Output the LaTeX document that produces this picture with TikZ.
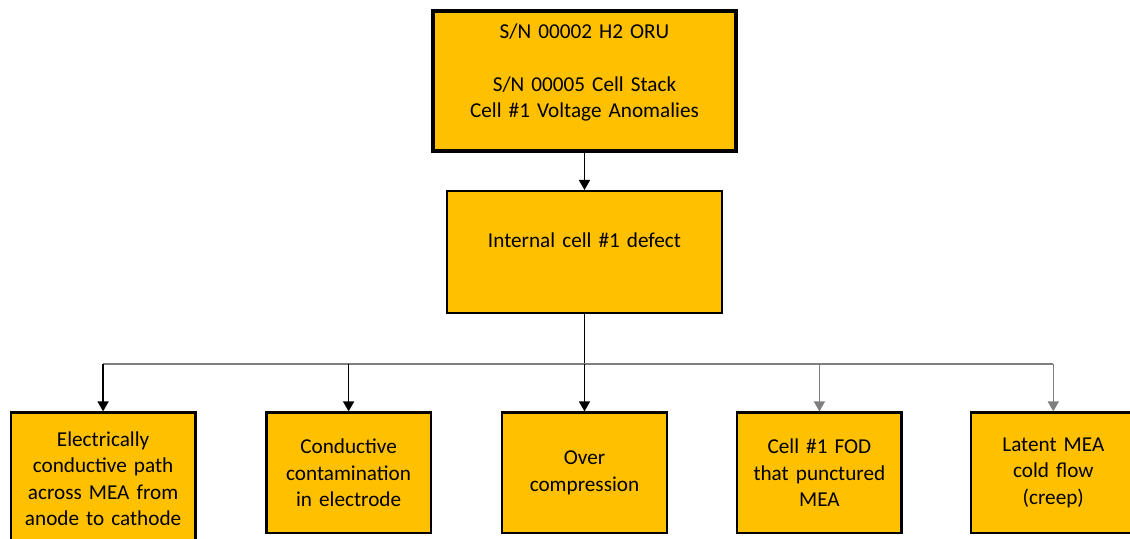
\documentclass[tikz,border=0pt]{standalone}
\usepackage{fontspec}
\setmainfont{Carlito}
\usetikzlibrary{arrows.meta, positioning, calc}
\definecolor{oroCaja}{HTML}{FFC000}
\definecolor{grisLinea}{HTML}{7F7F7F}
\colorlet{colBorde}{black}
\tikzset{
  cajaBase/.style={
    draw=colBorde, line width=1.2pt, fill=oroCaja,
    align=center, inner sep=0pt, text=black,
    font=\fontsize{10.6}{13.2}\selectfont
  },
  cajaRaiz/.style={cajaBase, line width=2pt, minimum width=151.5pt, minimum height=70pt, text width=145pt},
  cajaDefecto/.style={cajaBase, minimum width=137.5pt, minimum height=61pt, text width=130pt},
  cajaCausa/.style={cajaBase, minimum width=82.25pt, minimum height=60.25pt, text width=78pt},
  flecha/.style={-{Triangle[length=5pt, width=5.5pt]}, line width=0.75pt, black},
  flechaGris/.style={flecha, grisLinea},
  lineaBus/.style={line width=0.9pt, grisLinea},
}
\begin{document}
\begin{tikzpicture}[x=0.5pt, y=-0.5pt]
  \useasboundingbox (0,0) rectangle (1130,539);
  % arbol de fallas
  \node[cajaRaiz] (raiz) at (584.5,81) {S/N 00002 H2 ORU\\ \mbox{}\\ S/N 00005 Cell Stack\\ Cell \#1 Voltage Anomalies\\[-3.2pt] \mbox{}};
  \node[cajaDefecto, below=18.5pt of raiz] (defecto) {Internal cell \#1 defect\\[-1pt] \mbox{}};
  \node[cajaCausa, below=48.5pt of defecto] (sobrecomp) {Over\\ compression};
  \node[cajaCausa, left=34.5pt of sobrecomp] (contam) {Conductive\\ contamination\\ in electrode};
  \node[cajaCausa, left=34.3pt of contam.north west, anchor=north east, minimum width=92.25pt, minimum height=66pt, text width=88pt] (camino) {Electrically\\ conductive path\\ across MEA from\\ anode to cathode};
  \node[cajaCausa, right=34pt of sobrecomp] (fod) {Cell \#1 FOD\\ that punctured\\ MEA};
  \node[cajaCausa, right=33.5pt of fod] (creep) {Latent MEA\\ cold flow\\ (creep)};
  \coordinate (bus) at ($(defecto.south)+(0,50)$);
  % conectores
  \draw[flecha] (raiz) -- (defecto);
  \draw[line width=0.75pt] (defecto.south) -- (bus);
  \draw[lineaBus] (bus -| camino.north) -- (bus -| creep.north);
  \draw[flecha] (bus -| camino.north) -- (camino.north);
  \draw[flecha] (bus -| contam.north) -- (contam.north);
  \draw[flecha] (bus) -- (sobrecomp.north);
  \draw[flechaGris] (bus -| fod.north) -- (fod.north);
  \draw[flechaGris] (bus -| creep.north) -- (creep.north);
\end{tikzpicture}
\end{document}
